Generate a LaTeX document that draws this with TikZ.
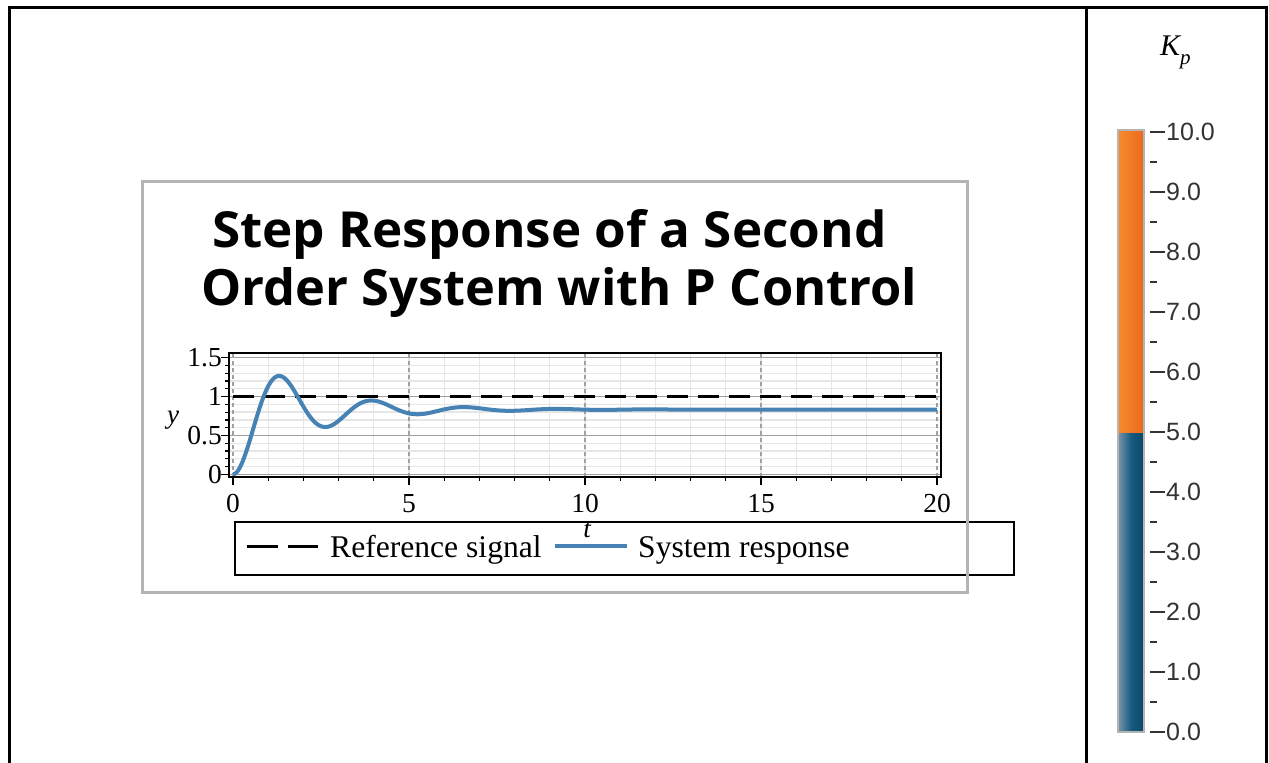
\documentclass[tikz,border=0pt]{standalone}
\usepackage{fontspec}
\setmainfont{Liberation Serif}
\newfontfamily\titlefont{Open Sans}
\newfontfamily\cbfont{Liberation Sans}
\definecolor{curveblue}{HTML}{4682B4}
\definecolor{minorgray}{HTML}{E6E6E6}
\definecolor{majorgray}{HTML}{A0A0A0}
\definecolor{panelgray}{HTML}{B4B4B4}
\definecolor{orangeL}{HTML}{F68A2C}
\definecolor{orangeR}{HTML}{EC6A1E}
\definecolor{blueL}{HTML}{7090A8}
\definecolor{blueM}{HTML}{165B80}
\definecolor{blueR}{HTML}{0A4A6C}
\definecolor{cbtext}{HTML}{333333}
\tikzset{
  frameline/.style={line width=3pt,black},
  minorgrid/.style={line width=1.3pt,minorgray},
  majorgrid/.style={line width=1.3pt,majorgray},
  majorvgrid/.style={line width=1.2pt,majorgray,dash pattern=on 4pt off 3pt},
  refline/.style={line width=3pt,black,dash pattern=on 21pt off 10pt},
  curve/.style={line width=4pt,curveblue,line join=round},
  ticklab/.style={font=\fontsize{27.5}{27.5}\selectfont,inner sep=0pt},
  leglab/.style={font=\fontsize{31.6}{31.6}\selectfont,inner sep=0pt,anchor=base west},
  cblab/.style={font=\cbfont\fontsize{25}{25}\selectfont,text=cbtext,inner sep=0pt,anchor=west},
  cbtick/.style={line width=2pt,cbtext},
  titleline/.style={inner sep=0pt,anchor=base west},
}
\begin{document}
\begin{tikzpicture}[x=1pt,y=-1pt]
\useasboundingbox (0,0) rectangle (1269,763);
\fill[white] (0,0) rectangle (1269,763);

% outer frame
\draw[frameline] (9,790) -- (9,7) -- (1266,7) -- (1266,790);
\draw[frameline] (1086,7) -- (1086,790);

% title
\node[titleline] (title1) at (212,247) {\resizebox{674pt}{38pt}{\titlefont\bfseries Step Response of a Second}};
\node[titleline] (title2) at (201,305) {\resizebox{716pt}{38pt}{\titlefont\bfseries Order System with P Control}};

% plot
\begin{scope}[shift={(233,474.3)},x=35.2pt,y=77.7pt]
  \fill[white] (-0.114,-0.035) rectangle (20.11,1.557);
  \foreach \t in {1,...,19} {\draw[minorgrid] (\t,-0.035) -- (\t,1.557);}
  \foreach \i in {1,...,15} {\draw[minorgrid] (-0.114,\i/10) -- (20.11,\i/10);}
  \foreach \v in {0,0.5,1,1.5} {\draw[majorgrid] (-0.114,\v) -- (20.11,\v);}
  \foreach \t in {0,5,10,15,20} {\draw[majorvgrid] (\t,-0.035) -- (\t,1.557);}
  \draw[refline] (0,1) -- (20,1);
  \draw[curve] plot[domain=0:20,samples=500] (\x,{5/6*(1-exp(-0.5*\x)*(cos(deg(2.398*\x))+0.2085*sin(deg(2.398*\x))))});
  \draw[line width=2pt,black] (-0.114,-0.035) rectangle (20.11,1.557);
  % left ticks
  \foreach \i in {0,...,15} {\draw[line width=1.2pt] (-0.114,\i/10) -- ++(-4pt,0);}
  \foreach \v in {0,0.5,1,1.5} {\draw[line width=1.4pt] (-0.114,\v) -- ++(-8pt,0);}
  % bottom ticks
  \foreach \t in {0,...,20} {\draw[line width=1.2pt] (\t,-0.035) -- ++(0,-4pt);}
  \foreach \t in {0,5,10,15,20} {\draw[line width=1.4pt] (\t,-0.035) -- ++(0,-8pt);}
  % tick labels
  \node[ticklab,anchor=east] (yl0) at ([xshift=-7pt]-0.114,0) {0};
  \node[ticklab,anchor=east] (yl1) at ([xshift=-7pt]-0.114,0.5) {0.5};
  \node[ticklab,anchor=east] (yl2) at ([xshift=-7pt]-0.114,1) {1};
  \node[ticklab,anchor=east] (yl3) at ([xshift=-7pt]-0.114,1.5) {1.5};
  \foreach \t in {0,5,10,15,20} {\node[ticklab] (xl\t) at ([yshift=-29pt]\t,0) {\t};}
\end{scope}
\node[ticklab,font=\fontsize{27}{27}\selectfont\itshape] (ylab) at (173,420) {y};
\node[ticklab,font=\fontsize{27}{27}\selectfont\itshape] (tlab) at (587,530) {t};

% legend
\draw[line width=2pt,black] (235,522) rectangle (1014,575);
\coordinate (ld1) at (247,546);
\coordinate (ld2) at (318,546);
\draw[line width=3pt,black,dash pattern=on 31pt off 10pt] (ld1) -- (ld2);
\node[leglab] (leg1) at (330,557) {Reference signal};
\coordinate (lb1) at (555,546);
\coordinate (lb2) at (627,546);
\draw[line width=4pt,curveblue] (lb1) -- (lb2);
\node[leglab] (leg2) at (638,557) {System response};

% panel border
\draw[line width=3pt,panelgray] (142,181) rectangle (967,592);

% colorbar
\shade[left color=orangeL,right color=orangeR] (1119,131) rectangle (1143,433);
\shade[left color=blueL,right color=blueR,middle color=blueM] (1119,433) rectangle (1143,731);
\draw[line width=2.5pt,panelgray] (1118,130) rectangle (1144,732);
\foreach \k in {0,...,10} {
  \draw[cbtick] (1150,{732-60*\k}) -- ++(15,0);
  \node[cblab] (cb\k) at (1166,{732-60*\k}) {\k.0};
}
\foreach \k in {0,...,9} {
  \draw[cbtick] (1150,{702-60*\k}) -- ++(7,0);
}
\node[inner sep=0pt,anchor=base west] (kp) at (1160,55) {\fontsize{30}{30}\selectfont\itshape K\raisebox{-9pt}{\fontsize{21}{21}\selectfont p}};
\end{tikzpicture}
\end{document}
